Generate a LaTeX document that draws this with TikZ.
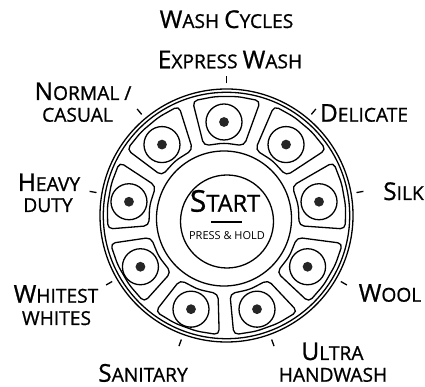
\documentclass[tikz,border=0pt]{standalone}
\usepackage{fontspec}
\setmainfont{Open Sans}
\newfontfamily\lblfont{Open Sans}[BoldFont=Open Sans, BoldFeatures={FakeBold=0.9}]
\usetikzlibrary{calc}
\newcommand{\bigc}[1]{{\fontsize{24.5}{24.5}\selectfont #1}}
\begin{document}
\begin{tikzpicture}[x=1pt,y=1pt,
  ln/.style={line width=1.3pt},
  lbl/.style={font=\lblfont\bfseries\fontsize{19.2}{19.2}\selectfont, inner sep=0pt, anchor=base},
  btn/.style={draw, circle, line width=1.3pt, minimum size=36pt, inner sep=0pt},
  dot/.style={fill=black!85}]
\useasboundingbox (0,0) rectangle (425,387);
\coordinate (R0) at (226.5,171.5);
\coordinate (B0) at (224,168.5);
\draw[ln] (R0) circle[radius=126.5];
\draw[ln] (R0) circle[radius=123.2];
\draw[ln] (B0) circle[radius=67.5];
\node[draw, circle, ln, minimum size=93pt, inner sep=0pt] (start) at (227,165.5) {};
\foreach \k in {0,...,8} {
  \pgfmathsetmacro\t{90-40*\k}
  \draw[ln, rounded corners=5pt]
    ($(R0)+(\t+16.5:119.5)$) -- ($(R0)+(\t+5.5:119.5)$) -- ($(R0)+(\t-5.5:119.5)$) -- ($(R0)+(\t-16.5:119.5)$)
    -- ($(B0)+(\t-15.5:75.5)$) -- ($(B0)+(\t:75.5)$) -- ($(B0)+(\t+15.5:75.5)$) -- cycle;
  \node[btn] (btn\k) at ($(B0)+(\t:96.5)$) {};
  \fill[dot] (btn\k.center) circle[radius=4.9];
  \coordinate (ta\k) at ($(R0)+(\t:132)$);
  \coordinate (tb\k) at ($(R0)+(\t:139)$);
  \draw[ln] (ta\k) -- (tb\k);
}
% start
\node[font=\lblfont\bfseries\fontsize{23.5}{23.5}\selectfont, inner sep=0pt, anchor=base] (starttxt) at (225,175.3) {{\fontsize{30}{30}\selectfont S}TART};
\coordinate (sl1) at (211,165);
\coordinate (sl2) at (242,165);
\draw[line width=2pt] (sl1) -- (sl2);
\node[font=\fontsize{11}{11}\selectfont, inner sep=0pt, anchor=base] (press) at (227,147) {PRESS \& HOLD};
% labels
\node[lbl] (title) at (226.5,359) {\bigc{W}ASH \bigc{C}YCLES};
\node[lbl] (express) at (230,318.7) {\bigc{E}XPRESS \bigc{W}ASH};
\node[lbl] (normal) at (83,287) {\bigc{N}ORMAL /};
\node[lbl] (casual) at (77.5,265.3) {CASUAL};
\node[lbl] (delicate) at (364,265.3) {\bigc{D}ELICATE};
\node[lbl] (heavy) at (49,196) {\bigc{H}EAVY};
\node[lbl] (duty) at (48,175) {DUTY};
\node[lbl] (silk) at (403.5,187) {\bigc{S}ILK};
\node[lbl] (wool) at (390,85.3) {\bigc{W}OOL};
\node[lbl] (whitest) at (56,84.3) {\bigc{W}HITEST};
\node[lbl] (whites) at (56.5,62) {WHITES};
\node[lbl] (sanitary) at (143,5.3) {\bigc{S}ANITARY};
\node[lbl] (ultra) at (332.5,27) {\bigc{U}LTRA};
\node[lbl] (handwash) at (333,5.3) {HANDWASH};
\end{tikzpicture}
\end{document}
